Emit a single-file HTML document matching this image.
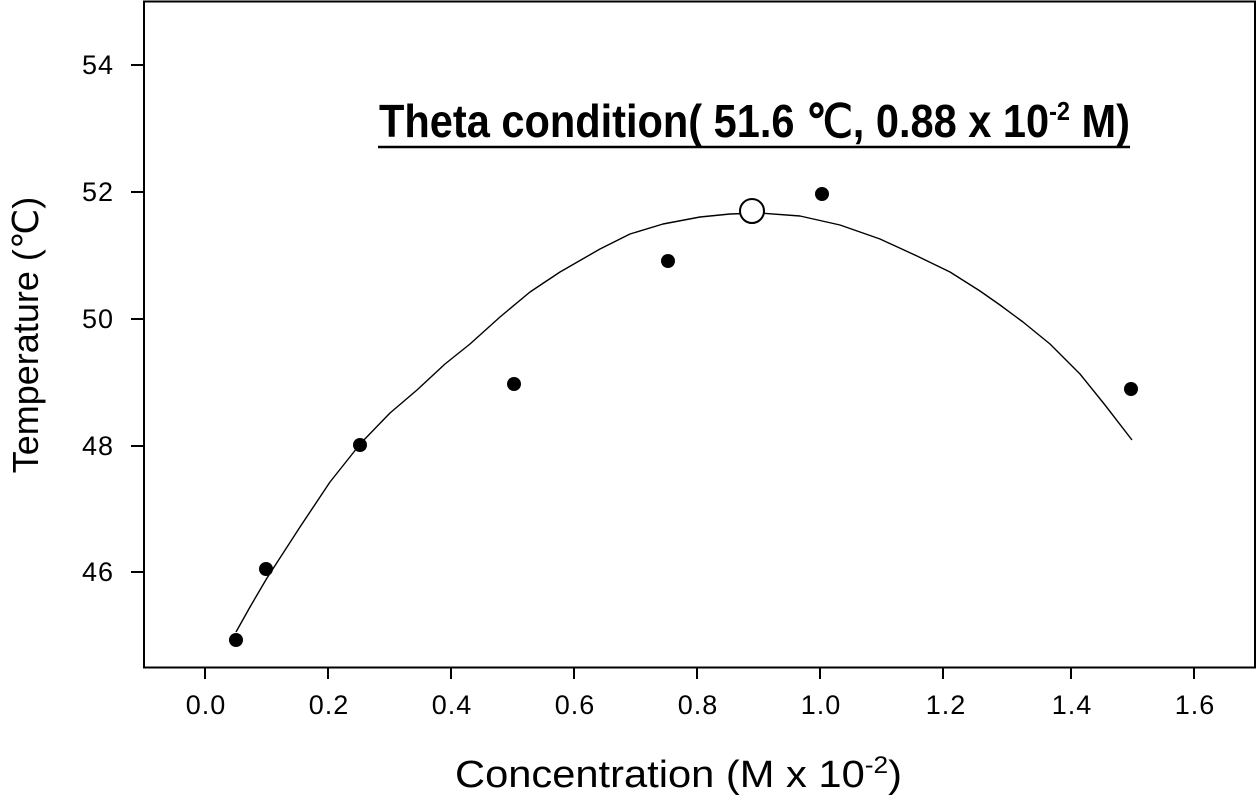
<!DOCTYPE html>
<html><head><meta charset="utf-8"><style>
html,body{margin:0;padding:0;background:#fff;}
svg{display:block;font-family:"Liberation Sans",Arial,sans-serif;}
</style></head><body>
<svg width="1260" height="795" viewBox="0 0 1260 795">
<rect x="144" y="1.5" width="1111" height="666" fill="none" stroke="#000" stroke-width="2"/>
<g stroke="#000" stroke-width="2">
<line x1="131" y1="65" x2="144" y2="65"/>
<line x1="131" y1="192" x2="144" y2="192"/>
<line x1="131" y1="319" x2="144" y2="319"/>
<line x1="131" y1="446" x2="144" y2="446"/>
<line x1="131" y1="572" x2="144" y2="572"/>
<line x1="205" y1="668" x2="205" y2="679"/>
<line x1="328" y1="668" x2="328" y2="679"/>
<line x1="451" y1="668" x2="451" y2="679"/>
<line x1="574" y1="668" x2="574" y2="679"/>
<line x1="697" y1="668" x2="697" y2="679"/>
<line x1="820" y1="668" x2="820" y2="679"/>
<line x1="943" y1="668" x2="943" y2="679"/>
<line x1="1071" y1="668" x2="1071" y2="679"/>
<line x1="1194" y1="668" x2="1194" y2="679"/>
</g>
<g font-size="27" text-anchor="end" fill="#000" letter-spacing="1">
<text x="114" y="74">54</text>
<text x="114" y="201">52</text>
<text x="114" y="328">50</text>
<text x="114" y="455">48</text>
<text x="114" y="581">46</text>
</g>
<g font-size="27" text-anchor="middle" fill="#000" letter-spacing="1">
<text x="206" y="714">0.0</text>
<text x="329" y="714">0.2</text>
<text x="452" y="714">0.4</text>
<text x="575" y="714">0.6</text>
<text x="698" y="714">0.8</text>
<text x="821" y="714">1.0</text>
<text x="946" y="714">1.2</text>
<text x="1072" y="714">1.4</text>
<text x="1195" y="714">1.6</text>
</g>
<text x="455" y="787" font-size="38" textLength="447" lengthAdjust="spacingAndGlyphs">Concentration (M x 10<tspan font-size="24" dy="-14">-2</tspan><tspan dy="14">)</tspan></text>
<text transform="translate(38,335) rotate(-90)" font-size="36" text-anchor="middle">Temperature (℃)</text>
<polyline points="236,632 250,607 267,578 300,527 330,482 361,443 390,413 417,390 445,364 470,344 500,317 530,292 560,272 600,249 630,234 663,224 700,217 730,214 760,213 800,216 840,225 880,239 917,256 950,272 980,291 1000,305 1023,322 1050,344 1080,374 1105,405 1132,440" fill="none" stroke="#000" stroke-width="1.4" stroke-linejoin="round"/>
<g fill="#000">
<circle cx="236" cy="640" r="7"/>
<circle cx="266" cy="569" r="7"/>
<circle cx="360" cy="445" r="7"/>
<circle cx="514" cy="384" r="7"/>
<circle cx="668" cy="261" r="7"/>
<circle cx="822" cy="194" r="7"/>
<circle cx="1131" cy="389" r="7"/>
</g>
<circle cx="752" cy="211" r="12" fill="#fff" stroke="#000" stroke-width="2"/>
<text x="379" y="137" font-size="46" font-weight="bold" textLength="751" lengthAdjust="spacingAndGlyphs">Theta condition( 51.6 ℃, 0.88 x 10<tspan font-size="26" dy="-17">-2</tspan><tspan dy="17"> M)</tspan></text>
<line x1="378" y1="147" x2="1130" y2="147" stroke="#000" stroke-width="2.5"/>
</svg>
</body></html>
